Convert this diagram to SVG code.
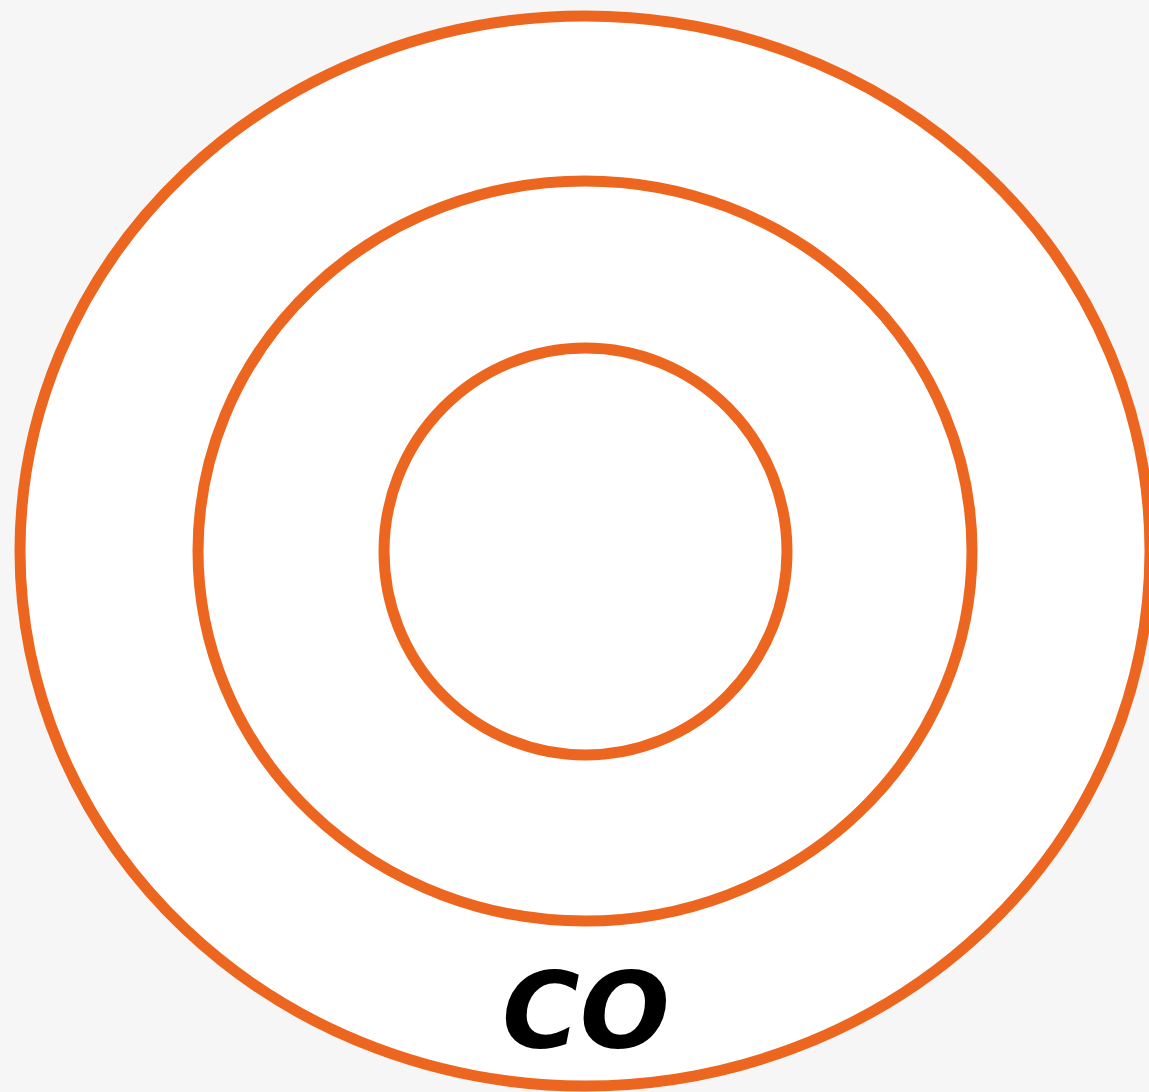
<svg xmlns="http://www.w3.org/2000/svg" width="1149" height="1092" viewBox="0 0 1149 1092">
<style>
.ring{fill:none;stroke:#ec6620;stroke-width:11}
.lbl{font-family:"DejaVu Sans",sans-serif;font-weight:bold;font-style:italic;fill:#000}
</style>
<rect width="1149" height="1092" fill="#f6f6f6"/>
<g id="outer"><ellipse cx="585" cy="551" rx="565" ry="535" class="ring" style="fill:#fff"/></g>
<g id="middle"><ellipse cx="585" cy="551" rx="387" ry="370" class="ring"/></g>
<g id="inner"><ellipse cx="585.5" cy="551.5" rx="201.5" ry="203.5" class="ring"/></g>
<g id="connectors"></g>
<g id="label"><text x="586" y="1048" text-anchor="middle" class="lbl" font-size="106">CO</text></g>
</svg>
